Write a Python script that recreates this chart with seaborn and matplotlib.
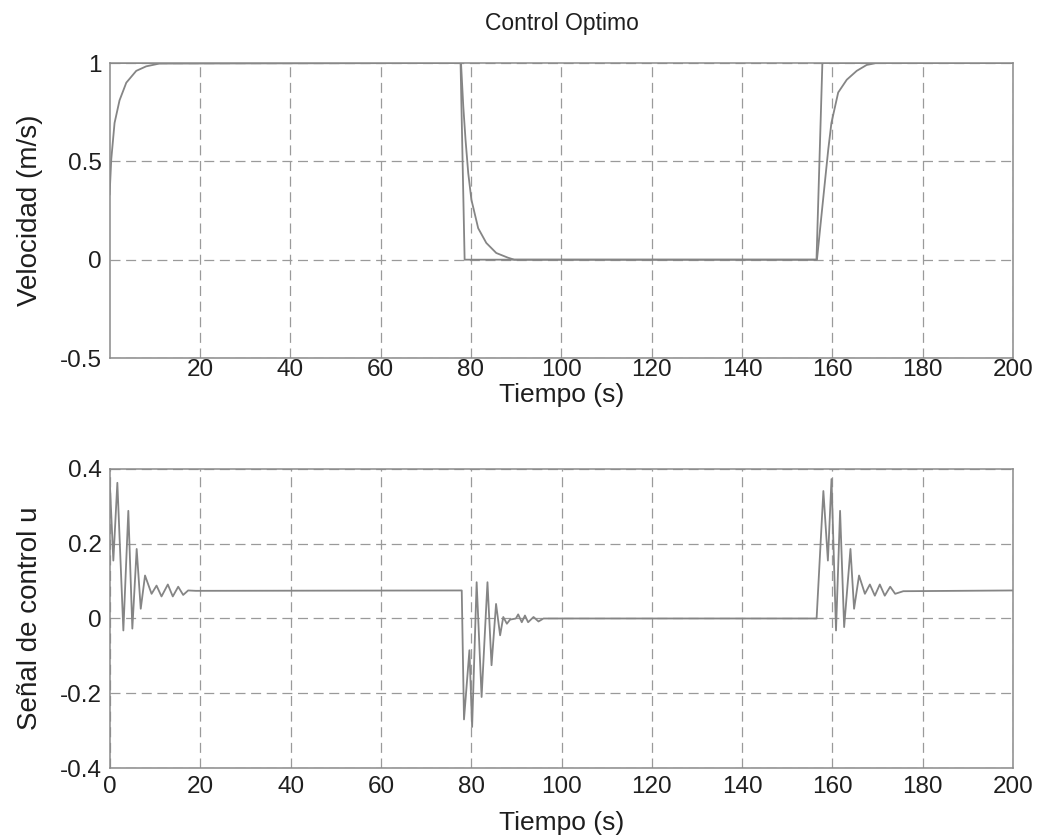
import numpy as np
import pandas as pd
import matplotlib
matplotlib.use("Agg")
import matplotlib.pyplot as plt
import seaborn as sns

# Referencia de velocidad (escalones)
ref_t = [0, 77.7, 78.6, 156.5, 157.8, 200]
ref_v = [1, 1, 0, 0, 1, 1]

# Respuesta de velocidad
vel_t = [0, 0.37, 1.1, 2.2, 3.7, 5.9, 8.1, 11, 77.8, 78.3, 78.8, 79.4, 80.1, 81.6,
         83.4, 85.6, 88.2, 89.6, 156.6, 157.8, 159.1, 159.8, 161.3, 163.2, 165.4,
         167.6, 169.8, 200]
vel_v = [0.33, 0.51, 0.695, 0.81, 0.90, 0.96, 0.983, 0.997, 1.0, 0.78, 0.61, 0.44,
         0.305, 0.16, 0.085, 0.034, 0.01, 0.0, 0.0, 0.27, 0.56, 0.695, 0.85, 0.915,
         0.96, 0.99, 1.0, 1.0]

# Senal de control u
u_t = [0, 0.73, 1.62, 2.95, 4.05, 4.94, 5.9, 6.8, 7.75, 9.2, 10.3, 11.4, 12.8, 13.9,
       15.1, 16.2, 17.3, 19,
       77.9, 78.4, 79.6, 80.2, 81.2, 82.3, 83.6, 84.5, 85.5, 86.4, 87.1, 87.9, 88.6,
       89.9, 90.4, 91.2, 91.9, 92.6, 93.8, 94.9, 96.0,
       156.5, 158.0, 159.0, 159.8, 160.8, 161.7, 162.6, 164.0, 164.8, 165.9, 167.2,
       168.3, 169.4, 170.5, 171.6, 172.8, 173.9, 175.7, 200]
u_v = [0.35, 0.155, 0.363, -0.032, 0.288, -0.027, 0.186, 0.026, 0.115, 0.066, 0.088,
       0.059, 0.091, 0.059, 0.085, 0.063, 0.075, 0.074,
       0.075, -0.27, -0.085, -0.29, 0.097, -0.21, 0.097, -0.125, 0.039, -0.045, 0.004,
       -0.014, -0.003, 0.0, 0.011, -0.01, 0.008, -0.01, 0.004, -0.008, 0.0,
       0.0, 0.341, 0.155, 0.373, -0.032, 0.288, -0.023, 0.186, 0.026, 0.115, 0.066,
       0.091, 0.061, 0.091, 0.061, 0.085, 0.066, 0.073, 0.075]

top_xticks = [20, 40, 60, 80, 100, 120, 140, 160, 180, 200]
bot_xticks = [0, 20, 40, 60, 80, 100, 120, 140, 160, 180, 200]
top_yticks = [-0.5, 0, 0.5, 1]
top_ylabels = ["-0.5", "0", "0.5", "1"]
bot_yticks = [-0.4, -0.2, 0, 0.2, 0.4]
bot_ylabels = ["-0.4", "-0.2", "0", "0.2", "0.4"]

sns.set_theme(style="white")
plt.rcParams["font.family"] = ["Liberation Sans", "DejaVu Sans"]

line_col = "#858585"
grid_col = "#9a9a9a"
text_col = "#1e1e1e"

fig = plt.figure(figsize=(10.44, 8.4), dpi=100)
ax1 = fig.add_axes([0.1054, 0.5738, 0.8649, 0.3512])
ax2 = fig.add_axes([0.1054, 0.0857, 0.8649, 0.3560])

ref = pd.DataFrame({"t": ref_t, "v": ref_v})
vel = pd.DataFrame({"t": vel_t, "v": vel_v})
ctrl = pd.DataFrame({"t": u_t, "u": u_v})

sns.lineplot(data=ref, x="t", y="v", ax=ax1, color=line_col, lw=1.3,
             estimator=None, sort=False)
sns.lineplot(data=vel, x="t", y="v", ax=ax1, color=line_col, lw=1.3,
             estimator=None, sort=False)
sns.lineplot(data=ctrl, x="t", y="u", ax=ax2, color=line_col, lw=1.3,
             estimator=None, sort=False)

ax1.set_xlim(0.1, 200)
ax1.set_ylim(-0.5, 1)
ax1.set_xticks(top_xticks)
ax1.set_yticks(top_yticks)
ax1.set_yticklabels(top_ylabels)
ax1.set_xlabel("Tiempo (s)", fontsize=19, color=text_col, labelpad=1)
ax1.set_ylabel("Velocidad (m/s)", fontsize=20, color=text_col, labelpad=12)
ax1.set_title("Control Optimo", fontsize=16.5, color=text_col, pad=24)

ax2.set_xlim(0, 200)
ax2.set_ylim(-0.4, 0.4)
ax2.set_xticks(bot_xticks)
ax2.set_yticks(bot_yticks)
ax2.set_yticklabels(bot_ylabels)
ax2.set_xlabel("Tiempo (s)", fontsize=19, color=text_col, labelpad=9)
ax2.set_ylabel("Señal de control u", fontsize=20, color=text_col, labelpad=12)

for ax in (ax1, ax2):
    ax.grid(True, color=grid_col, lw=0.9, dashes=(8, 4.5))
    ax.tick_params(axis="both", labelsize=17.5, colors=text_col, direction="in",
                   length=4, color=grid_col, pad=6)
    for sp in ax.spines.values():
        sp.set_color("#8a8a8a")
        sp.set_linewidth(1.1)
ax1.tick_params(axis="x", pad=1)

fig.savefig("out.png", dpi=100)
